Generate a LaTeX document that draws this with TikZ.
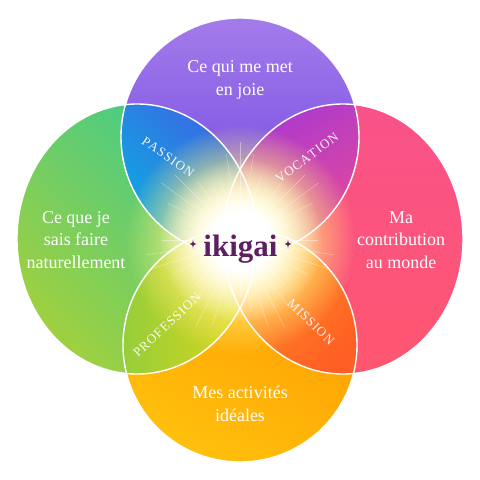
\documentclass[tikz,border=0pt]{standalone}
\usepackage{fontspec}
\setmainfont{Liberation Serif}
\usepackage{tikz}
\usetikzlibrary{fadings}

\definecolor{topA}{HTML}{A47BEA}
\definecolor{topB}{HTML}{6840E0}
\definecolor{leftA}{HTML}{3CCB8E}
\definecolor{leftB}{HTML}{A0D040}
\definecolor{rightA}{HTML}{F9528A}
\definecolor{rightB}{HTML}{FF566F}
\definecolor{botA}{HTML}{FF9800}
\definecolor{botB}{HTML}{FFC00C}
\definecolor{pasA}{HTML}{3F62E4}
\definecolor{pasB}{HTML}{0AAEE0}
\definecolor{vocA}{HTML}{A838D2}
\definecolor{vocB}{HTML}{EA4A94}
\definecolor{proA}{HTML}{92CE3C}
\definecolor{proB}{HTML}{E6D516}
\definecolor{misA}{HTML}{FF9A26}
\definecolor{misB}{HTML}{FF5E24}
\definecolor{glowyellow}{HTML}{FFF07A}
\definecolor{ikipurple}{HTML}{5E1F62}

\pgfdeclareradialshading{glowmask}{\pgfpointorigin}{color(0bp)=(white); color(9bp)=(white); color(25bp)=(black); color(50bp)=(black)}
\pgfdeclarefading{glowfade}{\pgfuseshading{glowmask}}

\newcommand{\ltrsp}{\kern1pt}

\begin{document}
\begin{tikzpicture}[x=1pt, y=-1pt,
    ring/.style={draw=white, line width=1.4pt},
    ray/.style={white, line width=0.5pt, opacity=0.4},
    zone/.style={text=white, align=center, font=\fontsize{18}{22.7}\selectfont},
    petal/.style={text=white, opacity=0.92, font=\fontsize{13}{14}\selectfont},
    sparkle/.pic={\fill[ikipurple] (0,-4.5) .. controls (0.6,-0.6) .. (3.5,0) .. controls (0.6,0.6) .. (0,4.5) .. controls (-0.6,0.6) .. (-3.5,0) .. controls (-0.6,-0.6) .. cycle;}]

    \useasboundingbox[fill=white] (0,0) rectangle (480,480);

    \coordinate (ctr) at (240,240);
    \coordinate (ctop) at (240,137);
    \coordinate (cleft) at (137,239);
    \coordinate (cright) at (343,239);
    \coordinate (cbot) at (240,345);

    % the four discs
    \shade[top color=topA, bottom color=topB] (ctop) circle [radius=119];
    \shade[top color=leftA, bottom color=leftB, shading angle=-45] (cleft) ellipse [x radius=120, y radius=135];
    \shade[top color=rightA, bottom color=rightB] (cright) ellipse [x radius=120, y radius=135];
    \shade[top color=botA, bottom color=botB, shading angle=-30] (cbot) circle [radius=117];

    % overlaps
    \begin{scope}
      \clip (ctop) circle [radius=119];
      \clip (cleft) ellipse [x radius=120, y radius=135];
      \shade[top color=pasA, bottom color=pasB, shading angle=-45] (118,100) rectangle (262,262);
    \end{scope}
    \begin{scope}
      \clip (ctop) circle [radius=119];
      \clip (cright) ellipse [x radius=120, y radius=135];
      \shade[top color=vocA, bottom color=vocB, shading angle=30] (218,100) rectangle (362,262);
    \end{scope}
    \begin{scope}
      \clip (cbot) circle [radius=117];
      \clip (cleft) ellipse [x radius=120, y radius=135];
      \shade[left color=proA, right color=proB] (118,218) rectangle (262,380);
    \end{scope}
    \begin{scope}
      \clip (cbot) circle [radius=117];
      \clip (cright) ellipse [x radius=120, y radius=135];
      \shade[top color=misA, bottom color=misB, shading angle=45] (218,218) rectangle (362,380);
    \end{scope}

    % glow and rays
    \fill[glowyellow, path fading=glowfade] (ctr) circle [radius=115];
    \fill[white, path fading=glowfade] (ctr) circle [radius=82];
    \foreach \a in {0,9,...,351}
      \draw[ray] (ctr) ++(\a:14) -- ++(\a:{64+20*sin(7*\a)});

    % outlines
    \draw[ring] (ctop) circle [radius=119];
    \draw[ring] (cleft) ellipse [x radius=120, y radius=135];
    \draw[ring] (cright) ellipse [x radius=120, y radius=135];
    \draw[ring] (cbot) circle [radius=117];

    \node[zone] (joie) at (240,80) {Ce qui me met\\en joie};
    \node[zone] (talent) at (76,240) {Ce que je\\sais faire\\naturellement};
    \node[zone] (monde) at (401,240) {Ma\\contribution\\au monde};
    \node[zone] (ideal) at (240,404) {Mes activités\\idéales};

    \node[petal, rotate=-35] (passion) at (168,157) {P\ltrsp A\ltrsp S\ltrsp S\ltrsp I\ltrsp O\ltrsp N};
    \node[petal, rotate=37] (vocation) at (307,158) {V\ltrsp O\ltrsp C\ltrsp A\ltrsp T\ltrsp I\ltrsp O\ltrsp N};
    \node[petal, rotate=43] (profession) at (167,325) {P\ltrsp R\ltrsp O\ltrsp F\ltrsp E\ltrsp S\ltrsp S\ltrsp I\ltrsp O\ltrsp N};
    \node[petal, rotate=-44] (mission) at (311,322) {M\ltrsp I\ltrsp S\ltrsp S\ltrsp I\ltrsp O\ltrsp N};

    \node[text=ikipurple, anchor=base, font=\fontsize{31}{32}\selectfont\bfseries] (ikigai) at (240.5,256) {ikigai};
    \pic at (193,244) {sparkle};
    \pic at (288,244) {sparkle};
\end{tikzpicture}
\end{document}
